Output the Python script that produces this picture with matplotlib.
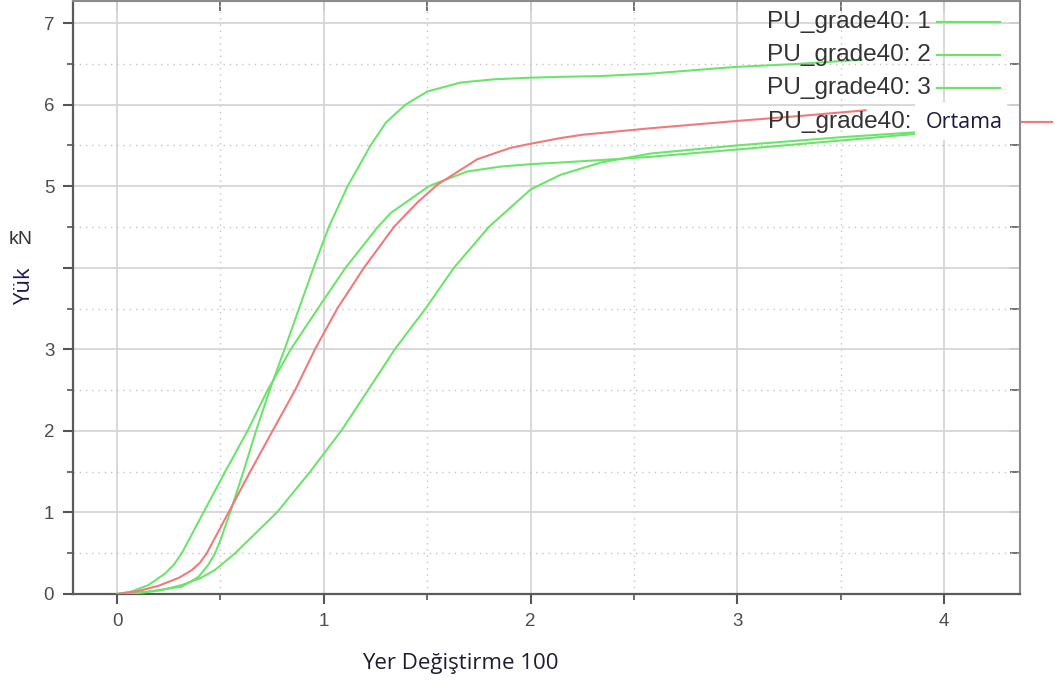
import matplotlib
matplotlib.use("Agg")
import matplotlib.pyplot as plt
from matplotlib.lines import Line2D
from matplotlib.patches import Rectangle
from matplotlib.ticker import MultipleLocator

# ---- data ----
x1 = [0, 0.15, 0.313, 0.394, 0.442, 0.474, 0.50, 0.547, 0.611, 0.672, 0.738, 0.810,
      0.88, 0.95, 1.024, 1.115, 1.226, 1.30, 1.395, 1.50, 1.66, 1.823, 2.0, 2.145,
      2.34, 2.58, 2.98, 3.3, 3.6]
y1 = [0, 0.03, 0.09, 0.21, 0.36, 0.5, 0.66, 1.0, 1.5, 2.0, 2.5, 3.0,
      3.5, 4.0, 4.5, 5.0, 5.5, 5.78, 6.0, 6.16, 6.27, 6.31, 6.33, 6.34,
      6.35, 6.38, 6.46, 6.50, 6.55]

x2 = [0, 0.07, 0.152, 0.232, 0.275, 0.313, 0.418, 0.523, 0.631, 0.728, 0.84, 0.971,
      1.105, 1.261, 1.323, 1.452, 1.508, 1.548, 1.694, 1.855, 2.0, 2.145, 2.34, 2.58,
      3.0, 3.5, 3.86]
y2 = [0, 0.03, 0.11, 0.25, 0.36, 0.5, 1.0, 1.5, 2.0, 2.5, 3.0, 3.5,
      4.0, 4.5, 4.67, 4.90, 5.0, 5.04, 5.18, 5.24, 5.27, 5.29, 5.32, 5.36,
      5.45, 5.56, 5.64]

x3 = [0, 0.1, 0.21, 0.313, 0.40, 0.474, 0.571, 0.773, 0.934, 1.084, 1.214, 1.343,
      1.492, 1.629, 1.798, 2.0, 2.145, 2.34, 2.58, 3.0, 3.5, 3.86]
y3 = [0, 0.01, 0.045, 0.11, 0.19, 0.295, 0.5, 1.0, 1.5, 2.0, 2.5, 3.0,
      3.5, 4.0, 4.5, 4.96, 5.14, 5.29, 5.40, 5.50, 5.60, 5.66]

x_avg = [0, 0.1, 0.2, 0.3, 0.36, 0.40, 0.434, 0.539, 0.644, 0.752, 0.861, 0.957,
         1.065, 1.194, 1.339, 1.452, 1.55, 1.742, 1.903, 2.0, 2.145, 2.25, 2.58,
         3.0, 3.3, 3.62]
y_avg = [0, 0.035, 0.10, 0.20, 0.29, 0.38, 0.5, 1.0, 1.5, 2.0, 2.5, 3.0,
         3.5, 4.0, 4.5, 4.80, 5.02, 5.33, 5.47, 5.52, 5.59, 5.63, 5.71,
         5.80, 5.86, 5.93]

series_labels = ["PU_grade40: 1", "PU_grade40: 2", "PU_grade40: 3"]
avg_label_a = "PU_grade40:"
avg_label_b = "Ortama"
x_ticks = [0, 1, 2, 3, 4]
x_ticklabels = ["0", "1", "2", "3", "4"]
y_ticks = [0, 1, 2, 3, 4, 5, 6, 7]
y_ticklabels = ["0", "1", "2", "3", "", "5", "6", "7"]
xlabel = "Yer Değiştirme 100"
ylabel = "Yük"
yunit = "kN"

GREEN = "#6ce46c"
RED = "#f07a7a"
W, H = 1055, 686

fig = plt.figure(figsize=(W / 100, H / 100), dpi=100)
ax = fig.add_axes([73 / W, 1 - 594 / H, (1020 - 73) / W, (594 - 1) / H])

for xs, ys in [(x1, y1), (x2, y2), (x3, y3)]:
    ax.plot(xs, ys, color=GREEN, lw=1.5, zorder=3, solid_joinstyle="round")
ax.plot(x_avg, y_avg, color=RED, lw=1.5, zorder=4, solid_joinstyle="round")

ax.set_xlim(-0.213, 4.366)
ax.set_ylim(0, 7.27)

ax.set_xticks(x_ticks)
ax.set_xticklabels(x_ticklabels)
ax.set_yticks(y_ticks)
ax.set_yticklabels(y_ticklabels)
ax.xaxis.set_minor_locator(MultipleLocator(0.5))
ax.yaxis.set_minor_locator(MultipleLocator(0.5))

ax.grid(True, which="major", color="#d6d6d6", lw=1.3, zorder=0)
ax.grid(True, which="minor", color="#c4c4c4", lw=1.0, linestyle=(0, (1, 3.5)), zorder=0)
ax.set_axisbelow(True)

ax.tick_params(which="major", direction="out", length=7.5, width=1.5, color="#555555",
               labelcolor="#4d4d4d", pad=6)
ax.tick_params(which="minor", direction="out", length=4.5, width=1.2, color="#555555")
for lab in ax.get_xticklabels() + ax.get_yticklabels():
    lab.set_fontfamily("Liberation Sans")
    lab.set_fontsize(13.5)

for s in ["left", "bottom"]:
    ax.spines[s].set_color("#5a5a5a")
    ax.spines[s].set_linewidth(1.6)
for s in ["top", "right"]:
    ax.spines[s].set_color("#8a8a8a")
    ax.spines[s].set_linewidth(1.5)

# inward ticks on top and right
axt = ax.secondary_xaxis("top")
axt.set_xticks(x_ticks)
axt.xaxis.set_minor_locator(MultipleLocator(0.5))
axt.tick_params(which="both", direction="in", length=7.5, width=1.3, color="#666666",
                labeltop=False)
axt.spines["top"].set_visible(False)
axr = ax.secondary_yaxis("right")
axr.set_yticks(y_ticks)
axr.yaxis.set_minor_locator(MultipleLocator(0.5))
axr.tick_params(which="both", direction="in", length=7.5, width=1.3, color="#666666",
                labelright=False)
axr.spines["right"].set_visible(False)

# axis labels
fig.text(460 / W, 1 - 664 / H, xlabel, ha="center", va="center",
         family="Open Sans", fontsize=16, color="#1e1e2e")
fig.text(25 / W, 1 - 286 / H, ylabel, ha="center", va="center", rotation=90,
         family="Open Sans", fontsize=16, color="#1c1c55")
fig.text(21 / W, 1 - 240 / H, yunit, ha="center", va="center",
         family="Liberation Sans", fontsize=14, color="#333333")

# legend (manual)
leg_y = [22, 55, 88]
for lab, yy in zip(series_labels, leg_y):
    fig.text(931 / W, 1 - yy / H, lab, ha="right", va="center",
             family="Liberation Sans", fontsize=17.6, color="#333333", zorder=6)
    fig.add_artist(Line2D([937 / W, 1000 / W], [1 - yy / H, 1 - yy / H],
                          color=GREEN, lw=1.6, zorder=6))
fig.add_artist(Rectangle((915 / W, 1 - 140 / H), (1007 - 915) / W, 38 / H,
                         facecolor="white", edgecolor="none", zorder=5))
fig.text(911 / W, 1 - 122 / H, avg_label_a, ha="right", va="center",
         family="Liberation Sans", fontsize=17.6, color="#333333", zorder=6)
fig.text(926 / W, 1 - 122 / H, avg_label_b, ha="left", va="center",
         family="Open Sans", fontsize=15.5, color="#1c1c3c", zorder=6)
fig.add_artist(Line2D([1022 / W, 1052 / W], [1 - 122 / H, 1 - 122 / H],
                      color=RED, lw=1.6, zorder=6))

fig.savefig("out.png", dpi=100)
